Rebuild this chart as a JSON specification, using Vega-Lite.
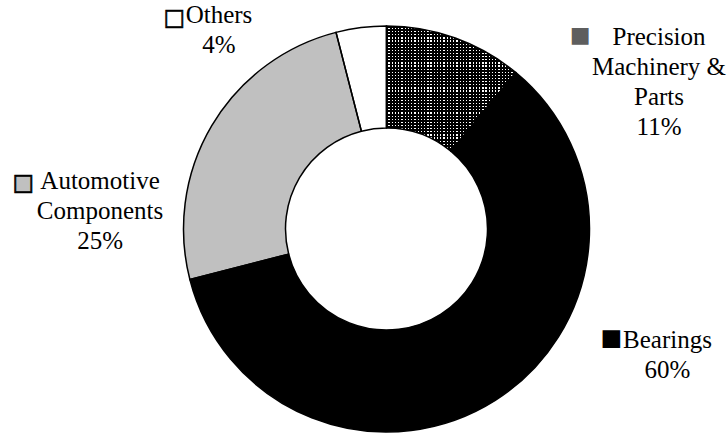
{
  "$schema": "https://vega.github.io/schema/vega-lite/v6.json",
  "width": 681,
  "height": 406,
  "autosize": "none",
  "padding": {"left": 46, "top": 26, "right": 0, "bottom": 1},
  "background": "white",
  "config": {"view": {"stroke": null}},
  "data": {
    "values": [
      {"category": "Precision Machinery & Parts", "label": ["Precision", "Machinery &", "Parts", "11%"], "share": 11, "rank": 1},
      {"category": "Bearings", "label": ["Bearings", "60%"], "share": 60, "rank": 2},
      {"category": "Automotive Components", "label": ["Automotive", "Components", "25%"], "share": 25, "rank": 3},
      {"category": "Others", "label": ["Others", "4%"], "share": 4, "rank": 4}
    ]
  },
  "layer": [
    {
      "mark": {"type": "arc", "outerRadius": 203, "innerRadius": 101},
      "encoding": {
        "theta": {"field": "share", "type": "quantitative", "stack": true},
        "order": {"field": "rank", "type": "quantitative"},
        "color": {"field": "category", "type": "nominal", "legend": null,
          "scale": {"domain": ["Precision Machinery & Parts", "Bearings", "Automotive Components", "Others"], "range": ["#ffffff", "#000000", "#c0c0c0", "#ffffff"]}}
      }
    },
    {
      "transform": [
        {"stack": "share", "groupby": [], "sort": [{"field": "rank"}], "as": ["s", "e"]},
        {"filter": "datum.category === 'Precision Machinery & Parts'"}
      ],
      "mark": {"type": "arc", "outerRadius": 203, "innerRadius": 101, "fill": {"gradient": "linear", "x1": 0, "y1": 0, "x2": 1, "y2": 0, "stops": [
        {"offset":0,"color":"#000"},{"offset":0.015,"color":"#000"},{"offset":0.015,"color":"rgba(0,0,0,0)"},{"offset":0.025,"color":"rgba(0,0,0,0)"},
        {"offset":0.025,"color":"#000"},{"offset":0.04,"color":"#000"},{"offset":0.04,"color":"rgba(0,0,0,0)"},{"offset":0.05,"color":"rgba(0,0,0,0)"},
        {"offset":0.05,"color":"#000"},{"offset":0.065,"color":"#000"},{"offset":0.065,"color":"rgba(0,0,0,0)"},{"offset":0.075,"color":"rgba(0,0,0,0)"},
        {"offset":0.075,"color":"#000"},{"offset":0.09,"color":"#000"},{"offset":0.09,"color":"rgba(0,0,0,0)"},{"offset":0.1,"color":"rgba(0,0,0,0)"},
        {"offset":0.1,"color":"#000"},{"offset":0.115,"color":"#000"},{"offset":0.115,"color":"rgba(0,0,0,0)"},{"offset":0.125,"color":"rgba(0,0,0,0)"},
        {"offset":0.125,"color":"#000"},{"offset":0.14,"color":"#000"},{"offset":0.14,"color":"rgba(0,0,0,0)"},{"offset":0.15,"color":"rgba(0,0,0,0)"},
        {"offset":0.15,"color":"#000"},{"offset":0.165,"color":"#000"},{"offset":0.165,"color":"rgba(0,0,0,0)"},{"offset":0.175,"color":"rgba(0,0,0,0)"},
        {"offset":0.175,"color":"#000"},{"offset":0.19,"color":"#000"},{"offset":0.19,"color":"rgba(0,0,0,0)"},{"offset":0.2,"color":"rgba(0,0,0,0)"},
        {"offset":0.2,"color":"#000"},{"offset":0.215,"color":"#000"},{"offset":0.215,"color":"rgba(0,0,0,0)"},{"offset":0.225,"color":"rgba(0,0,0,0)"},
        {"offset":0.225,"color":"#000"},{"offset":0.24,"color":"#000"},{"offset":0.24,"color":"rgba(0,0,0,0)"},{"offset":0.25,"color":"rgba(0,0,0,0)"},
        {"offset":0.25,"color":"#000"},{"offset":0.265,"color":"#000"},{"offset":0.265,"color":"rgba(0,0,0,0)"},{"offset":0.275,"color":"rgba(0,0,0,0)"},
        {"offset":0.275,"color":"#000"},{"offset":0.29,"color":"#000"},{"offset":0.29,"color":"rgba(0,0,0,0)"},{"offset":0.3,"color":"rgba(0,0,0,0)"},
        {"offset":0.3,"color":"#000"},{"offset":0.315,"color":"#000"},{"offset":0.315,"color":"rgba(0,0,0,0)"},{"offset":0.325,"color":"rgba(0,0,0,0)"},
        {"offset":0.325,"color":"#000"},{"offset":0.34,"color":"#000"},{"offset":0.34,"color":"rgba(0,0,0,0)"},{"offset":0.35,"color":"rgba(0,0,0,0)"},
        {"offset":0.35,"color":"#000"},{"offset":0.365,"color":"#000"},{"offset":0.365,"color":"rgba(0,0,0,0)"},{"offset":0.375,"color":"rgba(0,0,0,0)"},
        {"offset":0.375,"color":"#000"},{"offset":0.39,"color":"#000"},{"offset":0.39,"color":"rgba(0,0,0,0)"},{"offset":0.4,"color":"rgba(0,0,0,0)"},
        {"offset":0.4,"color":"#000"},{"offset":0.415,"color":"#000"},{"offset":0.415,"color":"rgba(0,0,0,0)"},{"offset":0.425,"color":"rgba(0,0,0,0)"},
        {"offset":0.425,"color":"#000"},{"offset":0.44,"color":"#000"},{"offset":0.44,"color":"rgba(0,0,0,0)"},{"offset":0.45,"color":"rgba(0,0,0,0)"},
        {"offset":0.45,"color":"#000"},{"offset":0.465,"color":"#000"},{"offset":0.465,"color":"rgba(0,0,0,0)"},{"offset":0.475,"color":"rgba(0,0,0,0)"},
        {"offset":0.475,"color":"#000"},{"offset":0.49,"color":"#000"},{"offset":0.49,"color":"rgba(0,0,0,0)"},{"offset":0.5,"color":"rgba(0,0,0,0)"},
        {"offset":0.5,"color":"#000"},{"offset":0.515,"color":"#000"},{"offset":0.515,"color":"rgba(0,0,0,0)"},{"offset":0.525,"color":"rgba(0,0,0,0)"},
        {"offset":0.525,"color":"#000"},{"offset":0.54,"color":"#000"},{"offset":0.54,"color":"rgba(0,0,0,0)"},{"offset":0.55,"color":"rgba(0,0,0,0)"},
        {"offset":0.55,"color":"#000"},{"offset":0.565,"color":"#000"},{"offset":0.565,"color":"rgba(0,0,0,0)"},{"offset":0.575,"color":"rgba(0,0,0,0)"},
        {"offset":0.575,"color":"#000"},{"offset":0.59,"color":"#000"},{"offset":0.59,"color":"rgba(0,0,0,0)"},{"offset":0.6,"color":"rgba(0,0,0,0)"},
        {"offset":0.6,"color":"#000"},{"offset":0.615,"color":"#000"},{"offset":0.615,"color":"rgba(0,0,0,0)"},{"offset":0.625,"color":"rgba(0,0,0,0)"},
        {"offset":0.625,"color":"#000"},{"offset":0.64,"color":"#000"},{"offset":0.64,"color":"rgba(0,0,0,0)"},{"offset":0.65,"color":"rgba(0,0,0,0)"},
        {"offset":0.65,"color":"#000"},{"offset":0.665,"color":"#000"},{"offset":0.665,"color":"rgba(0,0,0,0)"},{"offset":0.675,"color":"rgba(0,0,0,0)"},
        {"offset":0.675,"color":"#000"},{"offset":0.69,"color":"#000"},{"offset":0.69,"color":"rgba(0,0,0,0)"},{"offset":0.7,"color":"rgba(0,0,0,0)"},
        {"offset":0.7,"color":"#000"},{"offset":0.715,"color":"#000"},{"offset":0.715,"color":"rgba(0,0,0,0)"},{"offset":0.725,"color":"rgba(0,0,0,0)"},
        {"offset":0.725,"color":"#000"},{"offset":0.74,"color":"#000"},{"offset":0.74,"color":"rgba(0,0,0,0)"},{"offset":0.75,"color":"rgba(0,0,0,0)"},
        {"offset":0.75,"color":"#000"},{"offset":0.765,"color":"#000"},{"offset":0.765,"color":"rgba(0,0,0,0)"},{"offset":0.775,"color":"rgba(0,0,0,0)"},
        {"offset":0.775,"color":"#000"},{"offset":0.79,"color":"#000"},{"offset":0.79,"color":"rgba(0,0,0,0)"},{"offset":0.8,"color":"rgba(0,0,0,0)"},
        {"offset":0.8,"color":"#000"},{"offset":0.815,"color":"#000"},{"offset":0.815,"color":"rgba(0,0,0,0)"},{"offset":0.825,"color":"rgba(0,0,0,0)"},
        {"offset":0.825,"color":"#000"},{"offset":0.84,"color":"#000"},{"offset":0.84,"color":"rgba(0,0,0,0)"},{"offset":0.85,"color":"rgba(0,0,0,0)"},
        {"offset":0.85,"color":"#000"},{"offset":0.865,"color":"#000"},{"offset":0.865,"color":"rgba(0,0,0,0)"},{"offset":0.875,"color":"rgba(0,0,0,0)"},
        {"offset":0.875,"color":"#000"},{"offset":0.89,"color":"#000"},{"offset":0.89,"color":"rgba(0,0,0,0)"},{"offset":0.9,"color":"rgba(0,0,0,0)"},
        {"offset":0.9,"color":"#000"},{"offset":0.915,"color":"#000"},{"offset":0.915,"color":"rgba(0,0,0,0)"},{"offset":0.925,"color":"rgba(0,0,0,0)"},
        {"offset":0.925,"color":"#000"},{"offset":0.94,"color":"#000"},{"offset":0.94,"color":"rgba(0,0,0,0)"},{"offset":0.95,"color":"rgba(0,0,0,0)"},
        {"offset":0.95,"color":"#000"},{"offset":0.965,"color":"#000"},{"offset":0.965,"color":"rgba(0,0,0,0)"},{"offset":0.975,"color":"rgba(0,0,0,0)"},
        {"offset":0.975,"color":"#000"},{"offset":0.99,"color":"#000"},{"offset":0.99,"color":"rgba(0,0,0,0)"},{"offset":1,"color":"rgba(0,0,0,0)"}
      ]}},
      "encoding": {
        "theta": {"field": "s", "type": "quantitative"},
        "theta2": {"field": "e"}
      }
    },
    {
      "transform": [
        {"stack": "share", "groupby": [], "sort": [{"field": "rank"}], "as": ["s", "e"]},
        {"filter": "datum.category === 'Precision Machinery & Parts'"}
      ],
      "mark": {"type": "arc", "outerRadius": 203, "innerRadius": 101, "fill": {"gradient": "linear", "x1": 0, "y1": 0, "x2": 0, "y2": 1, "stops": [
        {"offset":0,"color":"#000"},{"offset":0.015,"color":"#000"},{"offset":0.015,"color":"rgba(0,0,0,0)"},{"offset":0.025,"color":"rgba(0,0,0,0)"},
        {"offset":0.025,"color":"#000"},{"offset":0.04,"color":"#000"},{"offset":0.04,"color":"rgba(0,0,0,0)"},{"offset":0.05,"color":"rgba(0,0,0,0)"},
        {"offset":0.05,"color":"#000"},{"offset":0.065,"color":"#000"},{"offset":0.065,"color":"rgba(0,0,0,0)"},{"offset":0.075,"color":"rgba(0,0,0,0)"},
        {"offset":0.075,"color":"#000"},{"offset":0.09,"color":"#000"},{"offset":0.09,"color":"rgba(0,0,0,0)"},{"offset":0.1,"color":"rgba(0,0,0,0)"},
        {"offset":0.1,"color":"#000"},{"offset":0.115,"color":"#000"},{"offset":0.115,"color":"rgba(0,0,0,0)"},{"offset":0.125,"color":"rgba(0,0,0,0)"},
        {"offset":0.125,"color":"#000"},{"offset":0.14,"color":"#000"},{"offset":0.14,"color":"rgba(0,0,0,0)"},{"offset":0.15,"color":"rgba(0,0,0,0)"},
        {"offset":0.15,"color":"#000"},{"offset":0.165,"color":"#000"},{"offset":0.165,"color":"rgba(0,0,0,0)"},{"offset":0.175,"color":"rgba(0,0,0,0)"},
        {"offset":0.175,"color":"#000"},{"offset":0.19,"color":"#000"},{"offset":0.19,"color":"rgba(0,0,0,0)"},{"offset":0.2,"color":"rgba(0,0,0,0)"},
        {"offset":0.2,"color":"#000"},{"offset":0.215,"color":"#000"},{"offset":0.215,"color":"rgba(0,0,0,0)"},{"offset":0.225,"color":"rgba(0,0,0,0)"},
        {"offset":0.225,"color":"#000"},{"offset":0.24,"color":"#000"},{"offset":0.24,"color":"rgba(0,0,0,0)"},{"offset":0.25,"color":"rgba(0,0,0,0)"},
        {"offset":0.25,"color":"#000"},{"offset":0.265,"color":"#000"},{"offset":0.265,"color":"rgba(0,0,0,0)"},{"offset":0.275,"color":"rgba(0,0,0,0)"},
        {"offset":0.275,"color":"#000"},{"offset":0.29,"color":"#000"},{"offset":0.29,"color":"rgba(0,0,0,0)"},{"offset":0.3,"color":"rgba(0,0,0,0)"},
        {"offset":0.3,"color":"#000"},{"offset":0.315,"color":"#000"},{"offset":0.315,"color":"rgba(0,0,0,0)"},{"offset":0.325,"color":"rgba(0,0,0,0)"},
        {"offset":0.325,"color":"#000"},{"offset":0.34,"color":"#000"},{"offset":0.34,"color":"rgba(0,0,0,0)"},{"offset":0.35,"color":"rgba(0,0,0,0)"},
        {"offset":0.35,"color":"#000"},{"offset":0.365,"color":"#000"},{"offset":0.365,"color":"rgba(0,0,0,0)"},{"offset":0.375,"color":"rgba(0,0,0,0)"},
        {"offset":0.375,"color":"#000"},{"offset":0.39,"color":"#000"},{"offset":0.39,"color":"rgba(0,0,0,0)"},{"offset":0.4,"color":"rgba(0,0,0,0)"},
        {"offset":0.4,"color":"#000"},{"offset":0.415,"color":"#000"},{"offset":0.415,"color":"rgba(0,0,0,0)"},{"offset":0.425,"color":"rgba(0,0,0,0)"},
        {"offset":0.425,"color":"#000"},{"offset":0.44,"color":"#000"},{"offset":0.44,"color":"rgba(0,0,0,0)"},{"offset":0.45,"color":"rgba(0,0,0,0)"},
        {"offset":0.45,"color":"#000"},{"offset":0.465,"color":"#000"},{"offset":0.465,"color":"rgba(0,0,0,0)"},{"offset":0.475,"color":"rgba(0,0,0,0)"},
        {"offset":0.475,"color":"#000"},{"offset":0.49,"color":"#000"},{"offset":0.49,"color":"rgba(0,0,0,0)"},{"offset":0.5,"color":"rgba(0,0,0,0)"},
        {"offset":0.5,"color":"#000"},{"offset":0.515,"color":"#000"},{"offset":0.515,"color":"rgba(0,0,0,0)"},{"offset":0.525,"color":"rgba(0,0,0,0)"},
        {"offset":0.525,"color":"#000"},{"offset":0.54,"color":"#000"},{"offset":0.54,"color":"rgba(0,0,0,0)"},{"offset":0.55,"color":"rgba(0,0,0,0)"},
        {"offset":0.55,"color":"#000"},{"offset":0.565,"color":"#000"},{"offset":0.565,"color":"rgba(0,0,0,0)"},{"offset":0.575,"color":"rgba(0,0,0,0)"},
        {"offset":0.575,"color":"#000"},{"offset":0.59,"color":"#000"},{"offset":0.59,"color":"rgba(0,0,0,0)"},{"offset":0.6,"color":"rgba(0,0,0,0)"},
        {"offset":0.6,"color":"#000"},{"offset":0.615,"color":"#000"},{"offset":0.615,"color":"rgba(0,0,0,0)"},{"offset":0.625,"color":"rgba(0,0,0,0)"},
        {"offset":0.625,"color":"#000"},{"offset":0.64,"color":"#000"},{"offset":0.64,"color":"rgba(0,0,0,0)"},{"offset":0.65,"color":"rgba(0,0,0,0)"},
        {"offset":0.65,"color":"#000"},{"offset":0.665,"color":"#000"},{"offset":0.665,"color":"rgba(0,0,0,0)"},{"offset":0.675,"color":"rgba(0,0,0,0)"},
        {"offset":0.675,"color":"#000"},{"offset":0.69,"color":"#000"},{"offset":0.69,"color":"rgba(0,0,0,0)"},{"offset":0.7,"color":"rgba(0,0,0,0)"},
        {"offset":0.7,"color":"#000"},{"offset":0.715,"color":"#000"},{"offset":0.715,"color":"rgba(0,0,0,0)"},{"offset":0.725,"color":"rgba(0,0,0,0)"},
        {"offset":0.725,"color":"#000"},{"offset":0.74,"color":"#000"},{"offset":0.74,"color":"rgba(0,0,0,0)"},{"offset":0.75,"color":"rgba(0,0,0,0)"},
        {"offset":0.75,"color":"#000"},{"offset":0.765,"color":"#000"},{"offset":0.765,"color":"rgba(0,0,0,0)"},{"offset":0.775,"color":"rgba(0,0,0,0)"},
        {"offset":0.775,"color":"#000"},{"offset":0.79,"color":"#000"},{"offset":0.79,"color":"rgba(0,0,0,0)"},{"offset":0.8,"color":"rgba(0,0,0,0)"},
        {"offset":0.8,"color":"#000"},{"offset":0.815,"color":"#000"},{"offset":0.815,"color":"rgba(0,0,0,0)"},{"offset":0.825,"color":"rgba(0,0,0,0)"},
        {"offset":0.825,"color":"#000"},{"offset":0.84,"color":"#000"},{"offset":0.84,"color":"rgba(0,0,0,0)"},{"offset":0.85,"color":"rgba(0,0,0,0)"},
        {"offset":0.85,"color":"#000"},{"offset":0.865,"color":"#000"},{"offset":0.865,"color":"rgba(0,0,0,0)"},{"offset":0.875,"color":"rgba(0,0,0,0)"},
        {"offset":0.875,"color":"#000"},{"offset":0.89,"color":"#000"},{"offset":0.89,"color":"rgba(0,0,0,0)"},{"offset":0.9,"color":"rgba(0,0,0,0)"},
        {"offset":0.9,"color":"#000"},{"offset":0.915,"color":"#000"},{"offset":0.915,"color":"rgba(0,0,0,0)"},{"offset":0.925,"color":"rgba(0,0,0,0)"},
        {"offset":0.925,"color":"#000"},{"offset":0.94,"color":"#000"},{"offset":0.94,"color":"rgba(0,0,0,0)"},{"offset":0.95,"color":"rgba(0,0,0,0)"},
        {"offset":0.95,"color":"#000"},{"offset":0.965,"color":"#000"},{"offset":0.965,"color":"rgba(0,0,0,0)"},{"offset":0.975,"color":"rgba(0,0,0,0)"},
        {"offset":0.975,"color":"#000"},{"offset":0.99,"color":"#000"},{"offset":0.99,"color":"rgba(0,0,0,0)"},{"offset":1,"color":"rgba(0,0,0,0)"}
      ]}},
      "encoding": {
        "theta": {"field": "s", "type": "quantitative"},
        "theta2": {"field": "e"}
      }
    },
    {
      "mark": {"type": "arc", "outerRadius": 203, "innerRadius": 101, "fillOpacity": 0, "stroke": "#000000", "strokeWidth": 1.5},
      "encoding": {
        "theta": {"field": "share", "type": "quantitative", "stack": true},
        "order": {"field": "rank", "type": "quantitative"}
      }
    },
    {
      "mark": {"type": "text", "radius": 215, "font": "Liberation Serif", "fontSize": 25, "lineHeight": 30, "align": "center", "baseline": "middle", "color": "#000000", "dx": 199.7, "dy": 9.8},
      "encoding": {
        "theta": {"field": "share", "type": "quantitative", "stack": true},
        "order": {"field": "rank", "type": "quantitative"},
        "text": {"condition": {"test": "datum.category === 'Precision Machinery & Parts'", "field": "label"}, "value": ""}
      }
    },
    {
      "mark": {"type": "text", "radius": 215, "font": "Liberation Serif", "fontSize": 25, "lineHeight": 30, "align": "center", "baseline": "middle", "color": "#000000", "dx": 165.8, "dy": -71},
      "encoding": {
        "theta": {"field": "share", "type": "quantitative", "stack": true},
        "order": {"field": "rank", "type": "quantitative"},
        "text": {"condition": {"test": "datum.category === 'Bearings'", "field": "label"}, "value": ""}
      }
    },
    {
      "mark": {"type": "text", "radius": 215, "font": "Liberation Serif", "fontSize": 25, "lineHeight": 30, "align": "center", "baseline": "middle", "color": "#000000", "dx": -101.4, "dy": 61.9},
      "encoding": {
        "theta": {"field": "share", "type": "quantitative", "stack": true},
        "order": {"field": "rank", "type": "quantitative"},
        "text": {"condition": {"test": "datum.category === 'Automotive Components'", "field": "label"}, "value": ""}
      }
    },
    {
      "mark": {"type": "text", "radius": 215, "font": "Liberation Serif", "fontSize": 25, "lineHeight": 30, "align": "center", "baseline": "middle", "color": "#000000", "dx": -140.6, "dy": -0.2},
      "encoding": {
        "theta": {"field": "share", "type": "quantitative", "stack": true},
        "order": {"field": "rank", "type": "quantitative"},
        "text": {"condition": {"test": "datum.category === 'Others'", "field": "label"}, "value": ""}
      }
    },
    {
      "mark": {"type": "text", "radius": 215, "font": "DejaVu Sans", "fontSize": 22, "align": "center", "baseline": "middle", "color": "#5e5e5e", "dx": 120.7, "dy": 8.3},
      "encoding": {
        "theta": {"field": "share", "type": "quantitative", "stack": true},
        "order": {"field": "rank", "type": "quantitative"},
        "text": {"condition": {"test": "datum.category === 'Precision Machinery & Parts'", "value": "■"}, "value": ""}
      }
    },
    {
      "mark": {"type": "text", "radius": 215, "font": "DejaVu Sans", "fontSize": 23, "align": "center", "baseline": "middle", "color": "#000000", "dx": 109.7, "dy": -72.1},
      "encoding": {
        "theta": {"field": "share", "type": "quantitative", "stack": true},
        "order": {"field": "rank", "type": "quantitative"},
        "text": {"condition": {"test": "datum.category === 'Bearings'", "value": "■"}, "value": ""}
      }
    },
    {
      "mark": {"type": "text", "radius": 215, "font": "DejaVu Sans", "fontSize": 23, "align": "center", "baseline": "middle", "color": "#c0c0c0", "dx": -178, "dy": 63.8},
      "encoding": {
        "theta": {"field": "share", "type": "quantitative", "stack": true},
        "order": {"field": "rank", "type": "quantitative"},
        "text": {"condition": {"test": "datum.category === 'Automotive Components'", "value": "■"}, "value": ""}
      }
    },
    {
      "mark": {"type": "text", "radius": 215, "font": "DejaVu Sans", "fontSize": 23, "align": "center", "baseline": "middle", "color": "#000000", "stroke": "#000000", "strokeWidth": 0.6, "dx": -178, "dy": 63.8},
      "encoding": {
        "theta": {"field": "share", "type": "quantitative", "stack": true},
        "order": {"field": "rank", "type": "quantitative"},
        "text": {"condition": {"test": "datum.category === 'Automotive Components'", "value": "□"}, "value": ""}
      }
    },
    {
      "mark": {"type": "text", "radius": 215, "font": "DejaVu Sans", "fontSize": 23, "align": "center", "baseline": "middle", "color": "#000000", "stroke": "#000000", "strokeWidth": 0.6, "dx": -185.2, "dy": 2.2},
      "encoding": {
        "theta": {"field": "share", "type": "quantitative", "stack": true},
        "order": {"field": "rank", "type": "quantitative"},
        "text": {"condition": {"test": "datum.category === 'Others'", "value": "□"}, "value": ""}
      }
    }
  ]
}
